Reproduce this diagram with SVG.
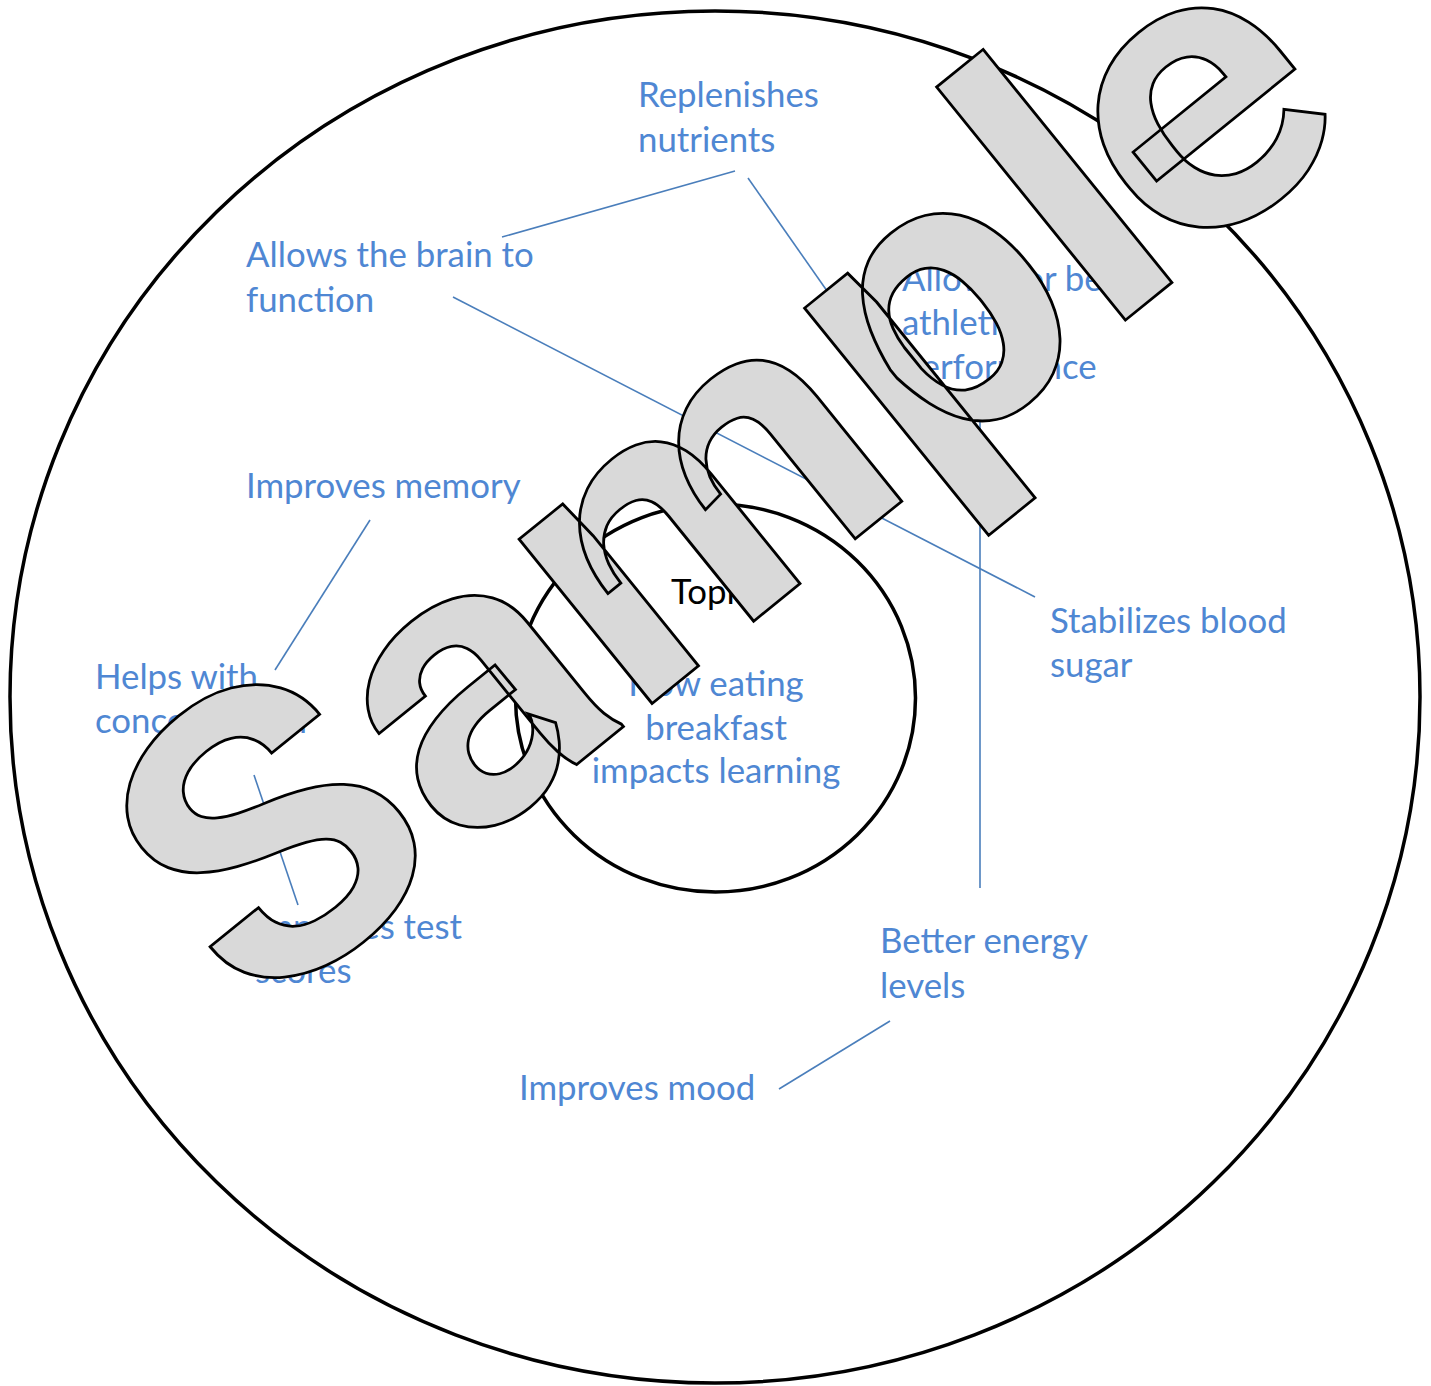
<svg xmlns="http://www.w3.org/2000/svg" width="1431" height="1386" viewBox="0 0 1431 1386">
<style>
.lbl{font-family:Lato,"Open Sans","Liberation Sans",sans-serif;font-size:34.8px;fill:#4f87d3}
.topic{font-family:Lato,"Open Sans","Liberation Sans",sans-serif;font-size:34.8px;fill:#000}
.ring{fill:none;stroke:#000;stroke-width:3.5}
.conn line{stroke:#4a7ebb;stroke-width:1.6}
.wm{font-family:Roboto,"DejaVu Sans",sans-serif;font-weight:bold;font-size:400px;fill:#d9d9d9;stroke:#000;stroke-width:2.7;stroke-linejoin:miter}
</style>
<rect width="1431" height="1386" fill="#fff"/>
<g id="outer"><ellipse class="ring" cx="715" cy="697" rx="705" ry="686"/></g>
<g id="center"><ellipse class="ring" cx="715.5" cy="698" rx="200" ry="194"/>
<text class="topic" x="671" y="604">Topic</text>
<text class="lbl" text-anchor="middle"><tspan x="716" y="696">How eating</tspan><tspan x="716" y="740">breakfast</tspan><tspan x="716" y="783">impacts learning</tspan></text></g>
<g class="conn" id="connectors">
<line x1="502" y1="237" x2="735" y2="171"/>
<line x1="748" y1="178" x2="832" y2="298"/>
<line x1="453" y1="297" x2="1035" y2="597"/>
<line x1="980" y1="395" x2="980" y2="888"/>
<line x1="370" y1="520" x2="275" y2="670"/>
<line x1="254" y1="775" x2="298" y2="905"/>
<line x1="890" y1="1021" x2="779" y2="1089"/>
</g>
<g id="n-replenishes"><text class="lbl"><tspan x="638" y="107">Replenishes</tspan><tspan x="638" y="152">nutrients</tspan></text></g>
<g id="n-brain"><text class="lbl"><tspan x="246" y="267">Allows the brain to</tspan><tspan x="246" y="312">function</tspan></text></g>
<g id="n-athletic"><text class="lbl"><tspan x="902" y="291">Allows for better</tspan><tspan x="902" y="335">athletic</tspan><tspan x="902" y="379">performance</tspan></text></g>
<g id="n-memory"><text class="lbl" x="246" y="498">Improves memory</text></g>
<g id="n-concentration"><text class="lbl"><tspan x="95" y="689">Helps with</tspan><tspan x="95" y="733">concentration</tspan></text></g>
<g id="n-test"><text class="lbl"><tspan x="255" y="939">Improves test</tspan><tspan x="255" y="983">scores</tspan></text></g>
<g id="n-sugar"><text class="lbl"><tspan x="1050" y="633">Stabilizes blood</tspan><tspan x="1050" y="677">sugar</tspan></text></g>
<g id="n-energy"><text class="lbl"><tspan x="880" y="953">Better energy</tspan><tspan x="880" y="998">levels</tspan></text></g>
<g id="n-mood"><text class="lbl" x="519" y="1100">Improves mood</text></g>
<g id="watermark"><text class="wm" transform="translate(807 578) rotate(-39) scale(1.06 1)" text-anchor="middle">Sampl<tspan dx="-13.5">e</tspan></text></g>
</svg>
